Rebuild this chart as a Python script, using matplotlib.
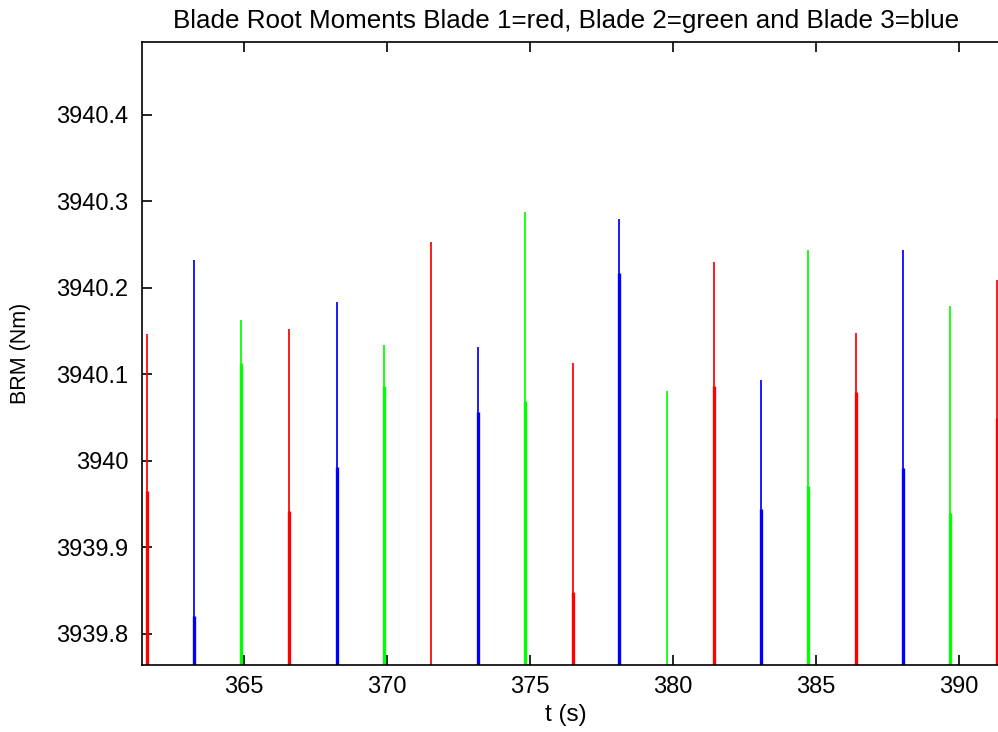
import matplotlib
matplotlib.use("Agg")
import matplotlib.pyplot as plt

plt.rcParams['font.family'] = ['Liberation Sans', 'DejaVu Sans']

# peak times (s), peak value and the level where the up/down strokes split (Nm)
t_red = [361.585, 366.564, 371.522, 376.49, 381.445, 386.40, 391.33]
peak_red = [3940.146, 3940.1526, 3940.2524, 3940.113, 3940.2293, 3940.1476, 3940.2085]
knee_red = [3939.965, 3939.942, 3939.70, 3939.848, 3940.086, 3940.079, 3940.05]

t_green = [364.885, 369.888, 374.822, 379.78, 384.72, 389.69]
peak_green = [3940.163, 3940.1333, 3940.2875, 3940.081, 3940.244, 3940.179]
knee_green = [3940.113, 3940.086, 3940.0686, 3939.70, 3939.971, 3939.9395]

t_blue = [363.25, 368.233, 373.177, 378.11, 383.08, 388.06]
peak_blue = [3940.2316, 3940.1835, 3940.1314, 3940.2794, 3940.0936, 3940.244]
knee_blue = [3939.821, 3939.993, 3940.0563, 3940.217, 3939.944, 3939.9915]

xticks = [365, 370, 375, 380, 385, 390]
yticks = [3939.8, 3939.9, 3940.0, 3940.1, 3940.2, 3940.3, 3940.4]
ytick_labels = ['3939.8', '3939.9', '3940', '3940.1', '3940.2', '3940.3', '3940.4']

y_bottom = 3939.764
y_top = 3940.484
base = 3939.6

W, H = 998, 732
fig = plt.figure(figsize=(W / 100, H / 100), dpi=100)
left, right, top, bottom = 141.7, 1010, 42, 665
ax = fig.add_axes([left / W, 1 - bottom / H, (right - left) / W, (bottom - top) / H])

for t, pk, kn, c in [(t_red, peak_red, knee_red, '#ff0000'),
                     (t_green, peak_green, knee_green, '#00ff00'),
                     (t_blue, peak_blue, knee_blue, '#0000ff')]:
    ax.vlines(t, base, pk, colors=c, linewidth=1.25)
    ax.vlines(t, base, kn, colors=c, linewidth=2.4)

x_left = 361.41
x_right = x_left + (right - left) / 28.58
ax.set_xlim(x_left, x_right)
ax.set_ylim(y_bottom, y_top)

ax.set_xticks(xticks)
ax.set_yticks(yticks)
ax.set_yticklabels(ytick_labels)
ax.tick_params(direction='in', length=7, width=1.2, labelsize=17, pad=9.5,
               top=True, right=True)
ax.tick_params(axis='x', pad=8)
for s in ax.spines.values():
    s.set_linewidth(1.2)

xc = (566 - left) / (right - left)
ax.set_title('Blade Root Moments Blade 1=red, Blade 2=green and Blade 3=blue',
             fontsize=18.7, x=xc, pad=10)
ax.set_xlabel('t (s)', fontsize=17.5)
ax.xaxis.set_label_coords(xc, -0.062)
ax.set_ylabel('BRM (Nm)', fontsize=15.5)
ax.yaxis.set_label_coords((31 - left) / (right - left), 0.5)

fig.savefig('out.png', dpi=100)
